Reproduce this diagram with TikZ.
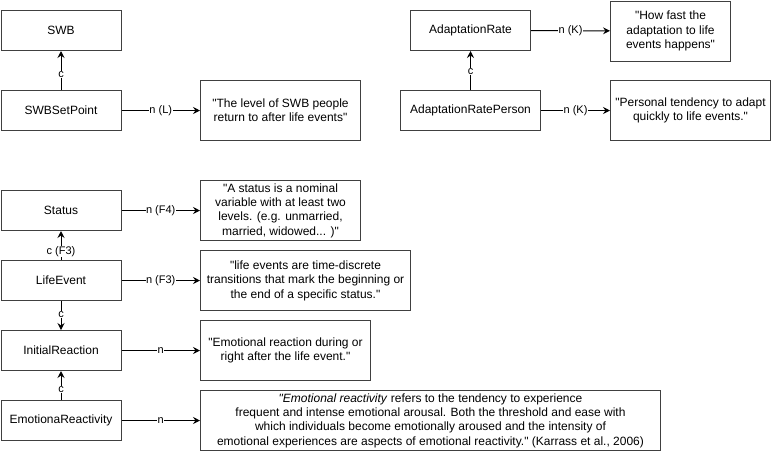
\documentclass[tikz,border=0pt]{standalone}
\usepackage{fontspec}
\setmainfont{Liberation Sans}[Ligatures=TeXOff]
\usetikzlibrary{arrows.meta}
\begin{document}
\begin{tikzpicture}[x=1pt,y=-1pt,
  entity/.style={draw=black!75, line width=1pt, minimum width=120pt, minimum height=40pt,
    inner sep=2pt, anchor=north west, font=\fontsize{12}{14.4}\selectfont},
  textbox/.style={draw=black!75, line width=1pt, minimum height=60pt, inner sep=2pt,
    anchor=north west, align=center, font=\fontsize{12}{14.4}\selectfont},
  conn/.style={draw=black, line width=1pt, -{Stealth[length=7pt,width=7pt,inset=2.5pt]}},
  elab/.style={fill=white, inner sep=0.5pt, font=\fontsize{11}{13}\selectfont}]
\useasboundingbox (0,0) rectangle (771,451);
% left top group
\node[entity] (swb) at (0.5,10) {SWB};
\node[entity] (setpoint) at (0.5,90) {SWBSetPoint};
\node[textbox, minimum width=160pt] (tsetpoint) at (200,80) {"The level of SWB people\\return to after life events"};
% right top group
\node[entity] (adrate) at (410,10) {AdaptationRate};
\node[entity, minimum width=140pt] (adperson) at (400,90) {AdaptationRatePerson};
\node[textbox, minimum width=120pt] (tadrate) at (610,0.5) {"How fast the\\adaptation to life\\events happens"};
\node[textbox, minimum width=160pt] (tadperson) at (610,80) {"Personal tendency to adapt\\quickly to life events."};
% bottom group
\node[entity] (status) at (0.5,190) {Status};
\node[entity] (life) at (0.5,260) {LifeEvent};
\node[entity] (initial) at (0.5,330) {InitialReaction};
\node[entity] (reactivity) at (0.5,400) {EmotionaReactivity};
\node[textbox, minimum width=160pt] (tstatus) at (200,180) {"A status is a nominal\\variable with at least two\\levels. (e.g. unmarried,\\married, widowed... )"};
\node[textbox, minimum width=210pt] (tlife) at (200,250) {"life events are time-discrete\\transitions that mark the beginning or\\the end of a specific status."};
\node[textbox, minimum width=170pt] (tinitial) at (200,320) {"Emotional reaction during or\\right after the life event."};
\node[textbox, minimum width=460pt] (treact) at (200,390) {\textit{"Emotional reactivity} refers to the tendency to experience\\frequent and intense emotional arousal. Both the threshold and ease with\\which individuals become emotionally aroused and the intensity of\\emotional experiences are aspects of emotional reactivity." (Karrass et al., 2006)};
% connectors
\draw[conn] (setpoint) -- node[elab, pos=0.4] {c} (swb);
\draw[conn] (setpoint) -- node[elab] {n (L)} (tsetpoint);
\draw[conn] (adperson) -- node[elab, pos=0.47] {c} (adrate);
\draw[conn] (adrate) -- node[elab] {n (K)} (tadrate);
\draw[conn] (adperson) -- node[elab] {n (K)} (tadperson);
\draw[conn] (life) -- node[elab, pos=0.3] {c (F3)} (status);
\draw[conn] (status) -- node[elab] {n (F4)} (tstatus);
\draw[conn] (life) -- node[elab] {n (F3)} (tlife);
\draw[conn] (life) -- node[elab, pos=0.47] {c} (initial);
\draw[conn] (initial) -- node[elab] {n} (tinitial);
\draw[conn] (reactivity) -- node[elab, pos=0.37] {c} (initial);
\draw[conn] (reactivity) -- node[elab] {n} (treact);
\end{tikzpicture}
\end{document}
